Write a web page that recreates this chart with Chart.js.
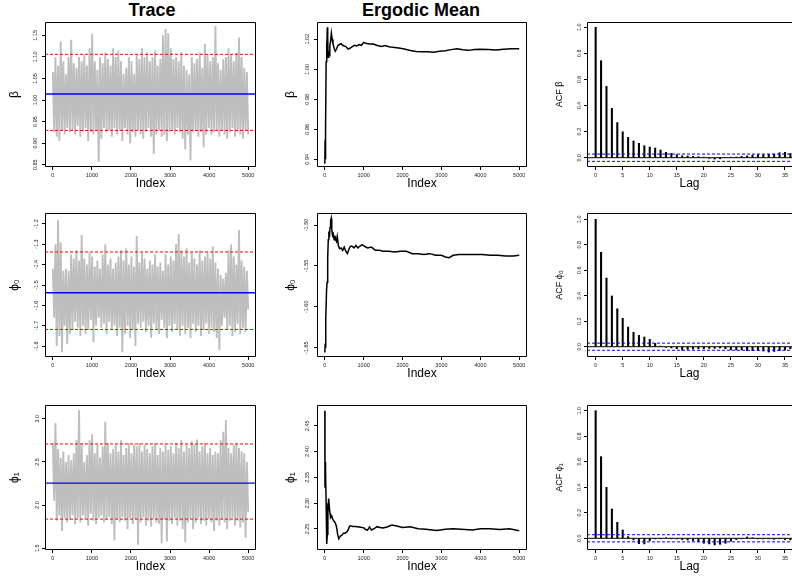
<!DOCTYPE html>
<html><head><meta charset="utf-8">
<script src="https://cdn.jsdelivr.net/npm/chart.js@4.4.0/dist/chart.umd.min.js"></script>
<style>
html,body{margin:0;padding:0;background:#fff;overflow:hidden;width:792px;height:577px;position:relative;}
.t{position:absolute;top:0px;font:bold 18px "Liberation Sans",Arial,Helvetica,sans-serif;color:#000;transform:translateX(-50%);white-space:nowrap;}
</style></head><body>
<div class="t" style="left:152px">Trace</div>
<div class="t" style="left:421px">Ergodic Mean</div>
<script>
// ---------- DATA ----------
const paramLabels = ['β', 'ϕ₀', 'ϕ₁'];
const acfLabels = ['ACF β', 'ACF ϕ₀', 'ACF ϕ₁'];
const nIter = 5000;

// trace chains (read as alternating upper/lower excursions across the iterations)
const traceBeta = [
1.065,0.925, 1.10,0.915, 1.08,0.905, 1.136,0.93, 1.09,0.92, 1.06,0.935, 1.10,0.925, 1.14,0.93, 1.085,0.92, 1.075,0.94,
1.10,0.915, 1.09,0.925, 1.105,0.935, 1.08,0.905, 1.12,0.925, 1.154,0.92, 1.09,0.93, 1.07,0.856, 1.10,0.91, 1.085,0.935,
1.11,0.925, 1.095,0.93, 1.08,0.915, 1.12,0.935, 1.10,0.92, 1.115,0.93, 1.09,0.905, 1.06,0.935, 1.075,0.92, 1.10,0.90,
1.09,0.925, 1.06,0.915, 1.105,0.93, 1.095,0.92, 1.12,0.91, 1.10,0.925, 1.11,0.935, 1.09,0.915, 1.10,0.875, 1.115,0.92,
1.08,0.93, 1.095,0.915, 1.15,0.92, 1.165,0.905, 1.155,0.925, 1.12,0.93, 1.095,0.92, 1.10,0.935, 1.09,0.925, 1.11,0.91,
1.08,0.885, 1.07,0.92, 1.06,0.86, 1.10,0.925, 1.085,0.93, 1.095,0.915, 1.11,0.925, 1.075,0.89, 1.13,0.92, 1.105,0.935,
1.09,0.92, 1.10,0.925, 1.171,0.93, 1.085,0.915, 1.07,0.93, 1.095,0.92, 1.10,0.91, 1.12,0.925, 1.105,0.935, 1.09,0.915,
1.11,0.925, 1.145,0.92, 1.10,0.91, 1.075,0.93, 1.065,0.92
];
const tracePhi0 = [
-1.42,-1.66, -1.30,-1.80, -1.18,-1.75, -1.29,-1.83, -1.43,-1.70, -1.42,-1.79, -1.43,-1.74, -1.35,-1.72, -1.37,-1.68, -1.33,-1.71,
-1.38,-1.75, -1.255,-1.70, -1.37,-1.74, -1.40,-1.72, -1.34,-1.67, -1.36,-1.78, -1.41,-1.70, -1.38,-1.66, -1.42,-1.71, -1.35,-1.69,
-1.30,-1.74, -1.40,-1.68, -1.37,-1.72, -1.42,-1.70, -1.39,-1.75, -1.36,-1.71, -1.33,-1.83, -1.38,-1.74, -1.32,-1.70, -1.40,-1.76,
-1.36,-1.72, -1.41,-1.80, -1.26,-1.69, -1.39,-1.71, -1.34,-1.68, -1.37,-1.73, -1.42,-1.70, -1.38,-1.76, -1.40,-1.69, -1.35,-1.72,
-1.41,-1.74, -1.39,-1.67, -1.43,-1.71, -1.35,-1.76, -1.40,-1.70, -1.36,-1.73, -1.38,-1.69, -1.30,-1.72, -1.25,-1.75, -1.33,-1.70,
-1.36,-1.74, -1.32,-1.71, -1.39,-1.76, -1.34,-1.69, -1.37,-1.73, -1.40,-1.70, -1.33,-1.75, -1.38,-1.72, -1.36,-1.69, -1.34,-1.74,
-1.37,-1.71, -1.31,-1.73, -1.39,-1.76, -1.42,-1.82, -1.45,-1.70, -1.47,-1.66, -1.44,-1.72, -1.33,-1.70, -1.30,-1.75, -1.36,-1.73,
-1.40,-1.69, -1.23,-1.74, -1.38,-1.71, -1.41,-1.73, -1.43,-1.62
];
const tracePhi1 = [
2.72,2.05, 2.95,1.82, 2.65,1.88, 2.55,1.70, 2.62,1.85, 2.50,1.80, 2.58,1.83, 2.52,1.88, 2.60,1.78, 2.75,1.85,
3.10,1.80, 2.70,1.88, 2.50,1.84, 2.58,1.76, 2.75,1.90, 2.82,1.82, 2.60,1.78, 2.70,1.85, 2.55,1.88, 2.68,1.80,
2.965,1.83, 2.72,1.86, 2.60,1.78, 2.65,1.59, 2.70,1.84, 2.62,1.80, 2.75,1.86, 2.58,1.82, 2.66,1.72, 2.72,1.85,
2.60,1.78, 2.70,1.84, 2.68,1.54, 2.72,1.80, 2.62,1.86, 2.70,1.76, 2.65,1.82, 2.60,1.75, 2.68,1.84, 2.72,1.80,
2.58,1.78, 2.66,1.56, 2.62,1.84, 2.70,1.58, 2.64,1.82, 2.68,1.78, 2.60,1.85, 2.72,1.76, 2.66,1.82, 2.75,1.72,
2.62,1.57, 2.70,1.80, 2.66,1.84, 2.74,1.72, 2.70,1.80, 2.76,1.85, 2.62,1.78, 2.68,1.82, 2.72,1.76, 2.60,1.84,
2.66,1.80, 2.58,1.70, 2.62,1.82, 2.60,1.76, 2.75,1.84, 2.85,1.80, 2.985,1.72, 2.66,1.82, 2.60,1.85, 2.70,1.76,
2.72,1.82, 2.66,1.74, 2.62,1.80, 2.60,1.62, 2.50,1.92
];
const traceMean  = [1.014, -1.538, 2.254];
const traceUpper = [1.106, -1.338, 2.708];
const traceLower = [0.9295, -1.718, 1.838];

// ergodic (running) means: [iteration, value]
const ergBeta = [[1,0.937],[8,0.953],[15,0.940],[25,0.960],[35,1.005],[45,1.018],[55,1.010],[65,1.028],[75,1.022],[85,1.008],[100,1.012],[115,1.009],[130,1.016],[150,1.019],[170,1.024],[190,1.020],[210,1.017],[240,1.014],[270,1.012],[300,1.0135],[340,1.016],[380,1.0165],[420,1.017],[460,1.016],[500,1.0155],[550,1.015],[600,1.0135],[650,1.014],[700,1.015],[760,1.016],[820,1.0155],[880,1.0165],[940,1.016],[1000,1.0178],[1080,1.0172],[1150,1.0168],[1250,1.0168],[1350,1.0158],[1450,1.0152],[1550,1.0158],[1650,1.0150],[1750,1.0146],[1900,1.0142],[2050,1.0135],[2200,1.0125],[2350,1.0118],[2500,1.0117],[2650,1.0117],[2800,1.0114],[2950,1.0120],[3100,1.0124],[3250,1.0131],[3400,1.0136],[3550,1.0130],[3700,1.0126],[3850,1.0131],[4000,1.0134],[4200,1.0132],[4400,1.0129],[4600,1.0134],[4800,1.0136],[5000,1.0137]];
const ergPhi0 = [[1,-1.656],[10,-1.645],[20,-1.650],[30,-1.615],[45,-1.58],[60,-1.57],[75,-1.54],[90,-1.518],[105,-1.508],[120,-1.515],[135,-1.503],[150,-1.495],[165,-1.492],[180,-1.505],[200,-1.513],[220,-1.511],[240,-1.518],[260,-1.513],[280,-1.518],[300,-1.52],[320,-1.514],[350,-1.525],[380,-1.529],[420,-1.528],[460,-1.531],[500,-1.527],[540,-1.532],[580,-1.535],[620,-1.530],[660,-1.526],[700,-1.526],[750,-1.528],[800,-1.525],[850,-1.528],[900,-1.526],[960,-1.524],[1020,-1.526],[1100,-1.528],[1200,-1.527],[1300,-1.531],[1400,-1.531],[1500,-1.532],[1650,-1.532],[1800,-1.533],[1950,-1.532],[2100,-1.532],[2250,-1.535],[2400,-1.535],[2550,-1.536],[2700,-1.535],[2850,-1.537],[3000,-1.537],[3100,-1.539],[3200,-1.540],[3300,-1.537],[3450,-1.536],[3650,-1.536],[3850,-1.536],[4050,-1.536],[4250,-1.537],[4450,-1.537],[4650,-1.538],[4850,-1.538],[5000,-1.537]];
const ergPhi1 = [[1,2.479],[5,2.33],[10,2.38],[15,2.34],[25,2.36],[35,2.30],[45,2.28],[55,2.221],[65,2.24],[80,2.28],[100,2.309],[120,2.29],[135,2.28],[150,2.272],[180,2.275],[210,2.268],[240,2.265],[270,2.262],[300,2.255],[330,2.24],[360,2.231],[400,2.236],[440,2.238],[480,2.242],[520,2.242],[560,2.244],[600,2.248],[640,2.256],[680,2.256],[720,2.255],[800,2.255],[880,2.254],[960,2.253],[1000,2.2526],[1050,2.249],[1100,2.248],[1150,2.254],[1200,2.248],[1280,2.251],[1342,2.2545],[1420,2.253],[1500,2.252],[1600,2.254],[1726,2.2578],[1850,2.256],[2000,2.253],[2197,2.2545],[2400,2.2505],[2600,2.2494],[2880,2.247],[3100,2.2494],[3300,2.2505],[3500,2.2494],[3800,2.248],[4000,2.2505],[4248,2.2506],[4500,2.249],[4750,2.2503],[5000,2.2468]];

// autocorrelations
const acfLags = [0,1,2,3,4,5,6,7,8,9,10,11,12,13,14,15,16,17,18,19,20,21,22,23,24,25,26,27,28,29,30,31,32,33,34,35,36];
const acfBeta = [1, 0.744, 0.547, 0.378, 0.269, 0.199, 0.156, 0.128, 0.110, 0.092, 0.082, 0.074, 0.059, 0.041, 0.033, 0.023, 0.015, 0.013, 0.010, 0.008, 0.003, -0.005, -0.010, -0.008, 0.0, 0.003, 0.005, 0.010, 0.013, 0.020, 0.025, 0.023, 0.025, 0.028, 0.038, 0.041, 0.033];
const acfPhi0 = [1, 0.741, 0.539, 0.398, 0.298, 0.223, 0.154, 0.113, 0.089, 0.076, 0.058, 0.026, 0.005, -0.005, -0.010, -0.016, -0.026, -0.021, -0.018, -0.016, -0.016, -0.013, -0.013, -0.010, -0.016, -0.024, -0.026, -0.024, -0.031, -0.031, -0.029, -0.034, -0.042, -0.037, -0.031, -0.026, -0.016];
const acfPhi1 = [1, 0.640, 0.399, 0.230, 0.125, 0.065, 0.013, -0.013, -0.042, -0.044, -0.018, -0.005, -0.003, 0.003, -0.003, -0.005, -0.010, -0.013, -0.018, -0.026, -0.039, -0.044, -0.052, -0.047, -0.039, -0.023, -0.010, -0.003, 0.010, 0.003, -0.003, -0.005, -0.003, -0.008, -0.003, -0.010, -0.013];
const acfBound = 0.028;

// tick labels
const indexTicks = [0, 1000, 2000, 3000, 4000, 5000];
const lagTicks = [0, 5, 10, 15, 20, 25, 30, 35];
const acfTicks = [0, 0.2, 0.4, 0.6, 0.8, 1.0];
const traceTicks = [[0.85,0.90,0.95,1.00,1.05,1.10,1.15], [-1.8,-1.7,-1.6,-1.5,-1.4,-1.3,-1.2], [1.5,2.0,2.5,3.0]];
const ergTicks = [[0.94,0.96,0.98,1.00,1.02], [-1.65,-1.60,-1.55,-1.50], [2.25,2.30,2.35,2.40,2.45]];
const traceDec = [2, 1, 1];
const ergDec = [2, 2, 2];

// ---------- LAYOUT / STYLE ----------
const FONT = '"Liberation Sans", Arial, Helvetica, sans-serif';
Chart.defaults.font.family = FONT;
const rowsGeom = [{t:22, h:145}, {t:213, h:144}, {t:405, h:145}];
const colTrace = {l:45, w:211, yW:38}, colErg = {l:317, w:210, yW:34}, colAcf = {l:587, w:205, yW:33};
const traceRange = [[0.8446,1.181], [-1.853,-1.147], [1.4803,3.1586]];
const ergRange = [[0.9349,1.0315], [-1.6614,-1.4853], [2.2093,2.4903]];
const acfRange = [[-0.0713,1.0406], [-0.0808,1.0495], [-0.0917,1.0447]];
const idxMin = -200, idxMax = 5200, lagMin = -1.6, lagMax = 36.3;
const X_H = 24, T_PAD = 8;

function frameBox(noRight) {
  return { id:'frame', afterDraw(chart) {
    const a = chart.chartArea, c = chart.ctx;
    const l = Math.round(a.left) + 0.5, r = Math.round(a.right) - 0.5, t = Math.round(a.top) + 0.5, b = Math.round(a.bottom) - 0.5;
    c.save(); c.strokeStyle = '#000'; c.lineWidth = 1; c.beginPath();
    if (noRight) { c.moveTo(r + 1, t); c.lineTo(l, t); c.lineTo(l, b); c.lineTo(r + 1, b); }
    else { c.rect(l, t, r - l, b - t); }
    c.stroke(); c.restore();
  }};
}
const gridCfg = { drawOnChartArea:false, drawTicks:true, tickLength:3, color:'#000', lineWidth:1, offset:false };
function axisX(min, max, ticks, title, fmt) {
  return { type:'linear', min, max, offset:false,
    afterBuildTicks: s => { s.ticks = ticks.map(v => ({value:v})); },
    afterFit: s => { s.height = X_H; },
    grid: gridCfg, border:{display:false},
    ticks: { autoSkip:false, minRotation:0, maxRotation:0, padding:2, color:'#222', font:{size:5.5, family:FONT}, callback: v => fmt(v) },
    title: { display:true, text:title, color:'#000', font:{size:12, family:FONT}, padding:0 }
  };
}
function axisY(min, max, ticks, title, fmt, yW, tsize) {
  return { type:'linear', min, max, offset:false,
    afterBuildTicks: s => { s.ticks = ticks.map(v => ({value:v})); },
    afterFit: s => { s.width = yW; },
    grid: gridCfg, border:{display:false},
    ticks: { autoSkip:false, minRotation:90, maxRotation:90, crossAlign:'center', padding:1, color:'#222', font:{size:5.5, family:FONT}, callback: v => fmt(v) },
    title: { display:true, text:title, color:'#000', font:{size:tsize, family:FONT}, padding:0 }
  };
}
function hline(y, x0, x1, color, width, dash) {
  return { type:'line', data:[{x:x0, y:y}, {x:x1, y:y}], borderColor:color, borderWidth:width, borderDash:dash || [], pointRadius:0, order:0 };
}
function makeChart(frame, col, rPad, type, datasets, xs, ys, noRight) {
  const cv = document.createElement('canvas');
  const L = col.l - col.yW, T = frame.t - T_PAD, W = col.yW + col.w + rPad, H = T_PAD + frame.h + X_H;
  cv.width = W; cv.height = H;
  cv.style.cssText = `position:absolute;left:${L}px;top:${T}px;width:${W}px;height:${H}px;`;
  document.body.appendChild(cv);
  return new Chart(cv, { type, data:{datasets},
    options:{ responsive:false, animation:false, events:[], devicePixelRatio:1,
      layout:{padding:{top:T_PAD, right:rPad, left:0, bottom:0}},
      plugins:{legend:{display:false}, tooltip:{enabled:false}},
      scales:{x:xs, y:ys} },
    plugins:[frameBox(noRight)] });
}

const traces = [traceBeta, tracePhi0, tracePhi1];
const ergs = [ergBeta, ergPhi0, ergPhi1];
const acfs = [acfBeta, acfPhi0, acfPhi1];

for (let r = 0; r < 3; r++) {
  const g = rowsGeom[r];
  // Trace
  const tr = traces[r];
  const trPts = tr.map((v, i) => ({x: i * nIter / (tr.length - 1), y: v}));
  makeChart(g, colTrace, 6, 'line', [
    hline(traceMean[r], idxMin, idxMax, '#0000ff', 1.3),
    hline(traceUpper[r], idxMin, idxMax, '#ff0000', 1, [3, 2]),
    hline(traceLower[r], idxMin, idxMax, '#ff0000', 1, [3, 2]),
    { data: trPts, borderColor:'#bebebe', borderWidth:1.9, pointRadius:0, tension:0, borderJoinStyle:'bevel', order:10 }
  ],
  axisX(idxMin, idxMax, indexTicks, 'Index', v => String(v)),
  axisY(traceRange[r][0], traceRange[r][1], traceTicks[r], paramLabels[r], v => v.toFixed(traceDec[r]), colTrace.yW, 12));

  // Ergodic mean
  makeChart(g, colErg, 6, 'line', [
    { data: ergs[r].map(p => ({x:p[0], y:p[1]})), borderColor:'#000', borderWidth:1.5, pointRadius:0, tension:0 }
  ],
  axisX(idxMin, idxMax, indexTicks, 'Index', v => String(v)),
  axisY(ergRange[r][0], ergRange[r][1], ergTicks[r], paramLabels[r], v => v.toFixed(ergDec[r]), colErg.yW, 12));

  // ACF
  makeChart(g, colAcf, 0, 'bar', [
    hline(0, lagMin, lagMax, '#000', 1),
    hline(acfBound, lagMin, lagMax, '#0000ff', 1, [3, 2]),
    hline(-acfBound, lagMin, lagMax, '#0000ff', 1, [3, 2]),
    { type:'bar', data: acfs[r].map((v, i) => ({x:acfLags[i], y:v})), backgroundColor:'#000', borderWidth:0, barThickness:1.4, order:5 }
  ],
  axisX(lagMin, lagMax, lagTicks, 'Lag', v => String(v)),
  axisY(acfRange[r][0], acfRange[r][1], acfTicks, acfLabels[r], v => v.toFixed(1), colAcf.yW, 9), true);
}
</script>
</body></html>
